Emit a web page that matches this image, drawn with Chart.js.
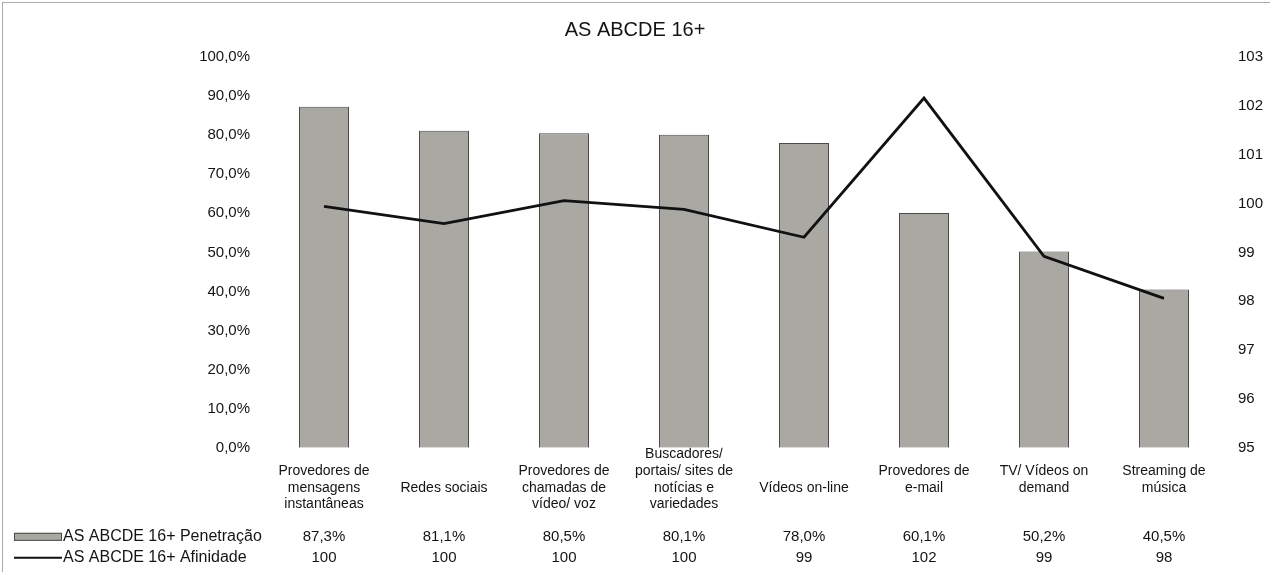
<!DOCTYPE html>
<html>
<head>
<meta charset="utf-8">
<script src="https://cdn.jsdelivr.net/npm/chart.js@4.4.1/dist/chart.umd.min.js"></script>
<style>
  body { margin: 0; background: #fff; }
  #wrap { position: relative; width: 1270px; height: 572px; }
  #frame { position: absolute; left: 2px; top: 2px; width: 1268px; height: 570px;
           border-left: 1px solid #aaa; border-top: 1px solid #aaa; pointer-events: none; }
</style>
</head>
<body>
<div id="wrap">
  <canvas id="chart" width="1270" height="572"></canvas>
  <div id="frame"></div>
</div>
<script>
// categories (extra blank lines keep the Excel-like vertical placement)
const categories = [
    ['', 'Provedores de', 'mensagens', 'instantâneas'],
    ['', '', 'Redes sociais'],
    ['', 'Provedores de', 'chamadas de', 'vídeo/ voz'],
    ['Buscadores/', 'portais/ sites de', 'notícias e', 'variedades'],
    ['', '', 'Vídeos on-line'],
    ['', 'Provedores de', 'e-mail'],
    ['', 'TV/ Vídeos on', 'demand'],
    ['', 'Streaming de', 'música']
];
const penetracao = [87.3, 81.1, 80.5, 80.1, 78.0, 60.1, 50.2, 40.5];
const afinidade = [99.94, 99.59, 100.06, 99.88, 99.31, 102.16, 98.92, 98.06];

const penLabel = 'AS ABCDE 16+ Penetração';
const afiLabel = 'AS ABCDE 16+ Afinidade';

const textColor = '#141414';
const barFill = '#aaa8a3';
const barEdge = '#4a4a4a';
const family = '"Liberation Sans", Arial, sans-serif';

const pct = v => v.toFixed(1).replace('.', ',') + '%';

// data table under the x axis
const dataTable = {
    id: 'dataTable',
    afterDraw(chart) {
        const ctx = chart.ctx;
        const x = chart.scales.x;
        const base = chart.chartArea.bottom;
        const rows = [
            { y: base + 89, label: penLabel, values: penetracao.map(pct) },
            { y: base + 110, label: afiLabel, values: afinidade.map(v => String(Math.round(v))) }
        ];
        ctx.save();
        ctx.textBaseline = 'middle';

        // legend keys
        ctx.fillStyle = barFill;
        ctx.fillRect(14, rows[0].y - 4, 48, 8);
        ctx.strokeStyle = barEdge;
        ctx.lineWidth = 1;
        ctx.strokeRect(14.5, rows[0].y - 3.5, 47, 7);
        ctx.beginPath();
        ctx.strokeStyle = '#111';
        ctx.lineWidth = 2;
        ctx.moveTo(14, rows[1].y);
        ctx.lineTo(62, rows[1].y);
        ctx.stroke();

        ctx.fillStyle = textColor;
        rows.forEach(r => {
            ctx.font = '16px ' + family;
            ctx.textAlign = 'left';
            ctx.fillText(r.label, 63, r.y);
            ctx.font = '15px ' + family;
            ctx.textAlign = 'center';
            r.values.forEach((t, i) => ctx.fillText(t, x.getPixelForValue(i), r.y));
        });
        ctx.restore();
    }
};

new Chart('chart', {
    type: 'bar',
    data: {
        labels: categories,
        datasets: [{
            type: 'line',
            label: afiLabel,
            data: afinidade,
            yAxisID: 'y1',
            borderColor: '#111',
            borderWidth: 2.8,
            pointRadius: 0,
            tension: 0,
            order: 0
        }, {
            label: penLabel,
            data: penetracao,
            yAxisID: 'y',
            backgroundColor: barFill,
            borderColor: barEdge,
            borderWidth: 1,
            barPercentage: 0.417,
            categoryPercentage: 1,
            order: 1
        }]
    },
    plugins: [dataTable],
    options: {
        responsive: false,
        animation: false,
        layout: { padding: { left: 0, right: 0, top: 0, bottom: 61 } },
        font: { family: family },
        plugins: {
            legend: { display: false },
            tooltip: { enabled: false },
            title: {
                display: true,
                text: 'AS ABCDE 16+',
                color: textColor,
                font: { size: 20, weight: 'normal', family: family, lineHeight: 1.2 },
                padding: { top: 18, bottom: 15 }
            }
        },
        scales: {
            x: {
                grid: { display: false, drawTicks: false },
                border: { display: false },
                ticks: {
                    color: textColor,
                    padding: -2,
                    autoSkip: false,
                    maxRotation: 0,
                    font: { size: 14, family: family, lineHeight: 1.2 }
                }
            },
            y: {
                position: 'left',
                min: 0,
                max: 100,
                grid: { display: false, drawTicks: false },
                border: { display: false },
                afterFit(s) { s.width = 264; },
                ticks: {
                    stepSize: 10,
                    color: textColor,
                    padding: 14,
                    font: { size: 15, family: family },
                    callback: v => pct(v)
                }
            },
            y1: {
                position: 'right',
                min: 95,
                max: 103,
                grid: { display: false, drawTicks: false },
                border: { display: false },
                afterFit(s) { s.width = 46; },
                ticks: {
                    stepSize: 1,
                    color: textColor,
                    padding: 14,
                    font: { size: 15, family: family }
                }
            }
        }
    }
});
</script>
</body>
</html>
